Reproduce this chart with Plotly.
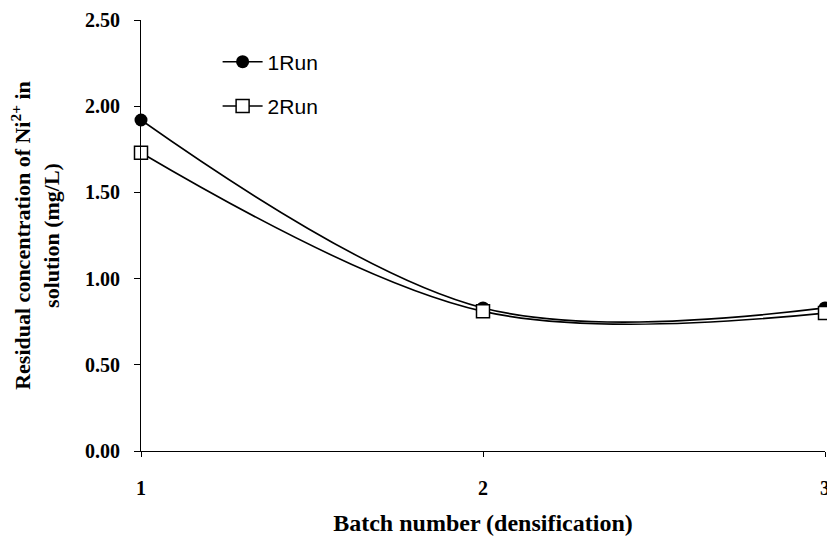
import plotly.graph_objects as go

batches = [1, 2, 3]
run1 = [1.92, 0.83, 0.83]
run2 = [1.73, 0.81, 0.80]
y_ticks = [0.0, 0.5, 1.0, 1.5, 2.0, 2.5]
y_tick_labels = ["0.00", "0.50", "1.00", "1.50", "2.00", "2.50"]

fig = go.Figure()
fig.add_trace(go.Scatter(
    x=batches, y=run1, name="1Run", mode="lines+markers",
    line=dict(color="black", width=1.6, shape="spline", smoothing=1.0),
    marker=dict(symbol="circle", size=13, color="black"),
    legendgroup="a", cliponaxis=False,
))
fig.add_trace(go.Scatter(
    x=batches, y=run2, name="2Run", mode="lines+markers",
    line=dict(color="black", width=1.6, shape="spline", smoothing=1.0),
    marker=dict(symbol="square", size=13, color="white", line=dict(color="black", width=1.5)),
    legendgroup="b", cliponaxis=False,
))

serif = "Liberation Serif"
fig.update_layout(
    width=827, height=541,
    margin=dict(l=141, r=2, t=20, b=90, autoexpand=False),
    paper_bgcolor="white", plot_bgcolor="white",
    showlegend=True,
    legend=dict(
        x=0.112, y=0.95, xanchor="left", yanchor="top",
        font=dict(family="Liberation Sans", size=21, color="black"),
        bgcolor="rgba(0,0,0,0)", tracegroupgap=14, itemwidth=40,
    ),
    xaxis=dict(
        range=[1, 3], tickvals=batches, ticktext=[str(b) for b in batches],
        automargin=False, ticklabeloverflow="allow",
        showline=True, linecolor="black", linewidth=1, showgrid=False, zeroline=False,
        ticks="outside", ticklen=5, tickcolor="black", ticklabelstandoff=14,
        tickfont=dict(family=serif, size=20, color="black", weight="bold"),
        title=dict(text="Batch number (densification)", standoff=16,
                   font=dict(family=serif, size=24, color="black", weight="bold")),
    ),
    yaxis=dict(
        range=[0, 2.5], tickvals=y_ticks, ticktext=y_tick_labels,
        automargin=False,
        showline=True, linecolor="black", linewidth=1, showgrid=False, zeroline=False,
        ticks="outside", ticklen=6, tickcolor="black", ticklabelstandoff=10,
        tickfont=dict(family=serif, size=20, color="black", weight="bold"),
        title=dict(text="Residual concentration of Ni<sup>2+</sup> in<br>solution (mg/L)", standoff=19,
                   font=dict(family=serif, size=22, color="black", weight="bold")),
    ),
)

fig.write_html(
    "out.html",
    config={"displayModeBar": False},
    post_script="document.body.style.margin='0';document.body.style.overflow='hidden';",
)
